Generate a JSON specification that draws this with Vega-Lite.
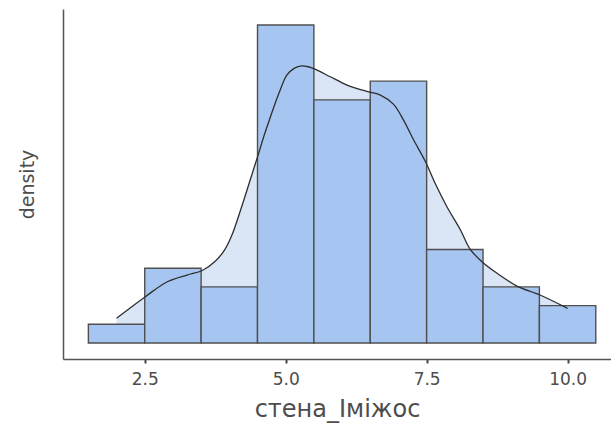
{
  "$schema": "https://vega.github.io/schema/vega-lite/v6.json",
  "width": 548,
  "height": 350,
  "autosize": {"type": "none"},
  "padding": {"left": 63, "top": 9, "right": 0, "bottom": 69},
  "background": "white",
  "config": {
    "view": {"stroke": null},
    "font": "DejaVu Sans"
  },
  "datasets": {
    "bins": [
      {"lo": 1.5, "hi": 2.5, "count": 1, "density": 0.016129},
      {"lo": 2.5, "hi": 3.5, "count": 4, "density": 0.064516},
      {"lo": 3.5, "hi": 4.5, "count": 3, "density": 0.048387},
      {"lo": 4.5, "hi": 5.5, "count": 17, "density": 0.274194},
      {"lo": 5.5, "hi": 6.5, "count": 13, "density": 0.209677},
      {"lo": 6.5, "hi": 7.5, "count": 14, "density": 0.225806},
      {"lo": 7.5, "hi": 8.5, "count": 5, "density": 0.080645},
      {"lo": 8.5, "hi": 9.5, "count": 3, "density": 0.048387},
      {"lo": 9.5, "hi": 10.5, "count": 2, "density": 0.032258}
    ],
    "kde": [
      {"x": 2.0, "density": 0.0213},
      {"x": 2.51, "density": 0.0399},
      {"x": 2.9, "density": 0.0528},
      {"x": 3.25, "density": 0.0586},
      {"x": 3.52, "density": 0.0625},
      {"x": 3.75, "density": 0.0705},
      {"x": 3.92, "density": 0.0805},
      {"x": 4.05, "density": 0.0935},
      {"x": 4.2, "density": 0.1147},
      {"x": 4.37, "density": 0.1405},
      {"x": 4.52, "density": 0.1635},
      {"x": 4.61, "density": 0.1778},
      {"x": 4.73, "density": 0.1951},
      {"x": 4.88, "density": 0.2153},
      {"x": 5.02, "density": 0.231},
      {"x": 5.15, "density": 0.2368},
      {"x": 5.26, "density": 0.2388},
      {"x": 5.4, "density": 0.2382},
      {"x": 5.53, "density": 0.2359},
      {"x": 5.79, "density": 0.2296},
      {"x": 6.09, "density": 0.2224},
      {"x": 6.47, "density": 0.2166},
      {"x": 6.68, "density": 0.2138},
      {"x": 6.91, "density": 0.206},
      {"x": 7.09, "density": 0.1922},
      {"x": 7.27, "density": 0.175},
      {"x": 7.48, "density": 0.1563},
      {"x": 7.65, "density": 0.1377},
      {"x": 7.86, "density": 0.1175},
      {"x": 8.1, "density": 0.0974},
      {"x": 8.27, "density": 0.081},
      {"x": 8.48, "density": 0.0701},
      {"x": 8.75, "density": 0.0601},
      {"x": 9.1, "density": 0.0491},
      {"x": 9.51, "density": 0.0414},
      {"x": 10.0, "density": 0.0299}
    ]
  },
  "layer": [
    {
      "data": {"name": "kde"},
      "mark": {"type": "area", "color": "#dae5f6", "interpolate": "catmull-rom"},
      "encoding": {
        "x": {"field": "x", "type": "quantitative", "scale": {"domain": [1.05, 10.77], "nice": false, "zero": false}},
        "y": {"field": "density", "type": "quantitative"}
      }
    },
    {
      "data": {"name": "bins"},
      "mark": {"type": "rect", "fill": "#a7c5f1", "stroke": "#4f4f4f", "strokeWidth": 1.4},
      "encoding": {
        "x": {
          "field": "lo",
          "type": "quantitative",
          "scale": {"domain": [1.05, 10.77], "nice": false, "zero": false},
          "axis": {
            "title": "стена_Іміжос",
            "values": [2.5, 5, 7.5, 10],
            "format": ".1f",
            "domainColor": "#555555",
            "domainWidth": 1.5,
            "tickColor": "#444444",
            "tickWidth": 2,
            "tickSize": 4,
            "grid": false,
            "labelFont": "DejaVu Sans",
            "labelFontSize": 17,
            "labelColor": "#4d4d4d",
            "labelPadding": 8,
            "titleFont": "DejaVu Sans",
            "titleFontSize": 24,
            "titleFontWeight": "normal",
            "titleColor": "#4d4d4d",
            "titlePadding": 10
          }
        },
        "x2": {"field": "hi"},
        "y": {
          "field": "density",
          "type": "quantitative",
          "scale": {"domain": [-0.0138, 0.288], "nice": false, "zero": false},
          "axis": {
            "title": "density",
            "labels": false,
            "ticks": false,
            "grid": false,
            "domainColor": "#555555",
            "domainWidth": 1.5,
            "titleFont": "DejaVu Sans",
            "titleFontSize": 19,
            "titleFontWeight": "normal",
            "titleColor": "#4d4d4d",
            "titlePadding": 26
          }
        },
        "y2": {"datum": 0}
      }
    },
    {
      "data": {"name": "kde"},
      "mark": {"type": "line", "color": "#2e2e2e", "strokeWidth": 1.3, "interpolate": "catmull-rom"},
      "encoding": {
        "x": {"field": "x", "type": "quantitative"},
        "y": {"field": "density", "type": "quantitative"}
      }
    }
  ]
}
